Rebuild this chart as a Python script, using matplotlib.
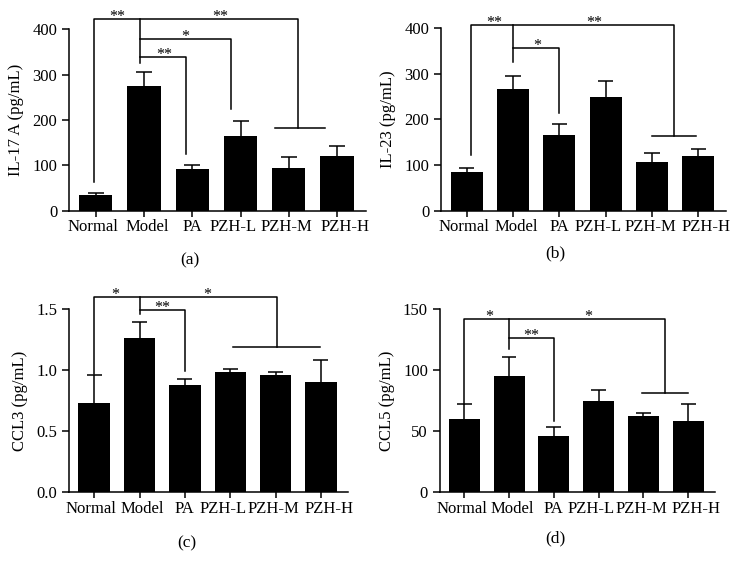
import matplotlib.pyplot as plt
import numpy as np

plt.rcParams['font.family'] = ['Liberation Serif', 'DejaVu Serif']

groups = ["Normal", "Model", "PA", "PZH-L", "PZH-M", "PZH-H"]

il17_mean = [35, 275, 92, 165, 95, 120]
il17_err = [5, 30, 8, 32, 23, 23]
il23_mean = [85, 267, 167, 250, 108, 120]
il23_err = [8, 29, 23, 34, 19, 15]
ccl3_mean = [0.73, 1.26, 0.88, 0.98, 0.96, 0.90]
ccl3_err = [0.23, 0.13, 0.05, 0.03, 0.02, 0.18]
ccl5_mean = [60, 95, 46, 75, 62, 58]
ccl5_err = [12, 16, 7, 9, 3, 14]

# significance brackets: top level, drop points (x, y end), group bar, inner brackets, labels
sig_a = dict(top=422, left=(-0.03, 64), model=(0.92, 325), right=(4.2, 182),
             group=(3.72, 4.75),
             inner=[(378, 2.81, 224, "*", 1.86), (338, 1.88, 125, "**", 1.42)],
             labels=[("**", 0.44), ("**", 2.58)])
sig_b = dict(top=406, left=(0.1, 122), model=(1.0, 325), right=(4.47, 164),
             group=(4.0, 4.96),
             inner=[(357, 2.0, 215, "*", 1.53)],
             labels=[("**", 0.6), ("**", 2.76)])
sig_c = dict(top=1.6, left=(0.0, 0.97), model=(1.0, 1.46), right=(4.03, 1.19),
             group=(3.05, 4.98),
             inner=[(1.49, 2.0, 0.99, "**", 1.5)],
             labels=[("*", 0.47), ("*", 2.5)])
sig_d = dict(top=142, left=(0.0, 72), model=(1.0, 117), right=(4.48, 81),
             group=(3.97, 5.0),
             inner=[(126, 2.0, 58, "**", 1.5)],
             labels=[("*", 0.55), ("*", 2.77)])

# the category labels are typeset as one spaced line in the original, so nudge them (points)
label_shift = [-2, 2, 0, -5.5, -1.5, 5.5]

panels = [
    # rect, mean, err, ylabel, yticks, ylim, tag, tag position, sig
    ([0.093, 0.632, 0.399, 0.317], il17_mean, il17_err, "IL-17 A (pg/mL)",
     [0, 100, 200, 300, 400], (0, 400), "(a)", (0.255, 0.546), sig_a),
    ([0.593, 0.632, 0.383, 0.319], il23_mean, il23_err, "IL-23 (pg/mL)",
     [0, 100, 200, 300, 400], (0, 400), "(b)", (0.746, 0.558), sig_b),
    ([0.093, 0.141, 0.375, 0.320], ccl3_mean, ccl3_err, "CCL3 (pg/mL)",
     [0.0, 0.5, 1.0, 1.5], (0, 1.5), "(c)", (0.251, 0.052), sig_c),
    ([0.591, 0.141, 0.370, 0.320], ccl5_mean, ccl5_err, "CCL5 (pg/mL)",
     [0, 50, 100, 150], (0, 150), "(d)", (0.746, 0.061), sig_d),
]

fig = plt.figure(figsize=(7.44, 5.73), dpi=100)

for rect, mean, err, ylabel, yticks, ylim, tag, tagpos, sig in panels:
    ax = fig.add_axes(rect)
    x = np.arange(len(groups))
    mean = np.array(mean)
    top_err = mean + np.array(err)
    ax.bar(x, mean, width=0.69, color="black", zorder=2)
    # upward-only error bars with a cap
    ax.vlines(x, mean, top_err, color="black", lw=1.1, zorder=3)
    ax.hlines(top_err, x - 0.165, x + 0.165, color="black", lw=1.1, zorder=3)
    ax.set_xlim(-0.55, 5.6)
    ax.set_ylim(*ylim)
    ax.set_yticks(yticks)
    if isinstance(yticks[1], float):
        ax.set_yticklabels(["%.1f" % t for t in yticks])
    ax.set_xticks(x)
    ax.set_xticklabels([])
    for xi, name, dx in zip(x, groups, label_shift):
        ax.annotate(name, (xi, 0), xycoords=("data", "axes fraction"),
                    xytext=(dx, -6), textcoords="offset points",
                    ha="center", va="top", fontsize=12, annotation_clip=False)
    ax.tick_params(axis="y", labelsize=12, length=5, width=1.1)
    ax.tick_params(axis="x", length=4, width=1.1)
    ax.set_ylabel(ylabel, fontsize=12, labelpad=6)
    for s in ["top", "right"]:
        ax.spines[s].set_visible(False)
    for s in ["left", "bottom"]:
        ax.spines[s].set_linewidth(1.1)

    # brackets
    kw = dict(color="black", lw=1.1, clip_on=False, zorder=4)
    top = sig["top"]
    lx, ly = sig["left"]
    mx, my = sig["model"]
    rx, ry = sig["right"]
    ax.plot([lx, lx, rx, rx], [ly, top, top, ry], **kw)
    ax.plot([mx, mx], [top, my], **kw)
    ax.plot(list(sig["group"]), [ry, ry], **kw)
    for y, xe, ye, lab, labx in sig["inner"]:
        ax.plot([mx, xe, xe], [y, y, ye], **kw)
        ax.annotate(lab, (labx, y), xytext=(0, -1.5), textcoords="offset points",
                    ha="center", va="baseline", fontsize=11.5, annotation_clip=False)
    for lab, labx in sig["labels"]:
        ax.annotate(lab, (labx, top), xytext=(0, -1.5), textcoords="offset points",
                    ha="center", va="baseline", fontsize=11.5, annotation_clip=False)

    fig.text(tagpos[0], tagpos[1], tag, ha="center", va="center", fontsize=12.5)

fig.savefig("out.png", dpi=100)
